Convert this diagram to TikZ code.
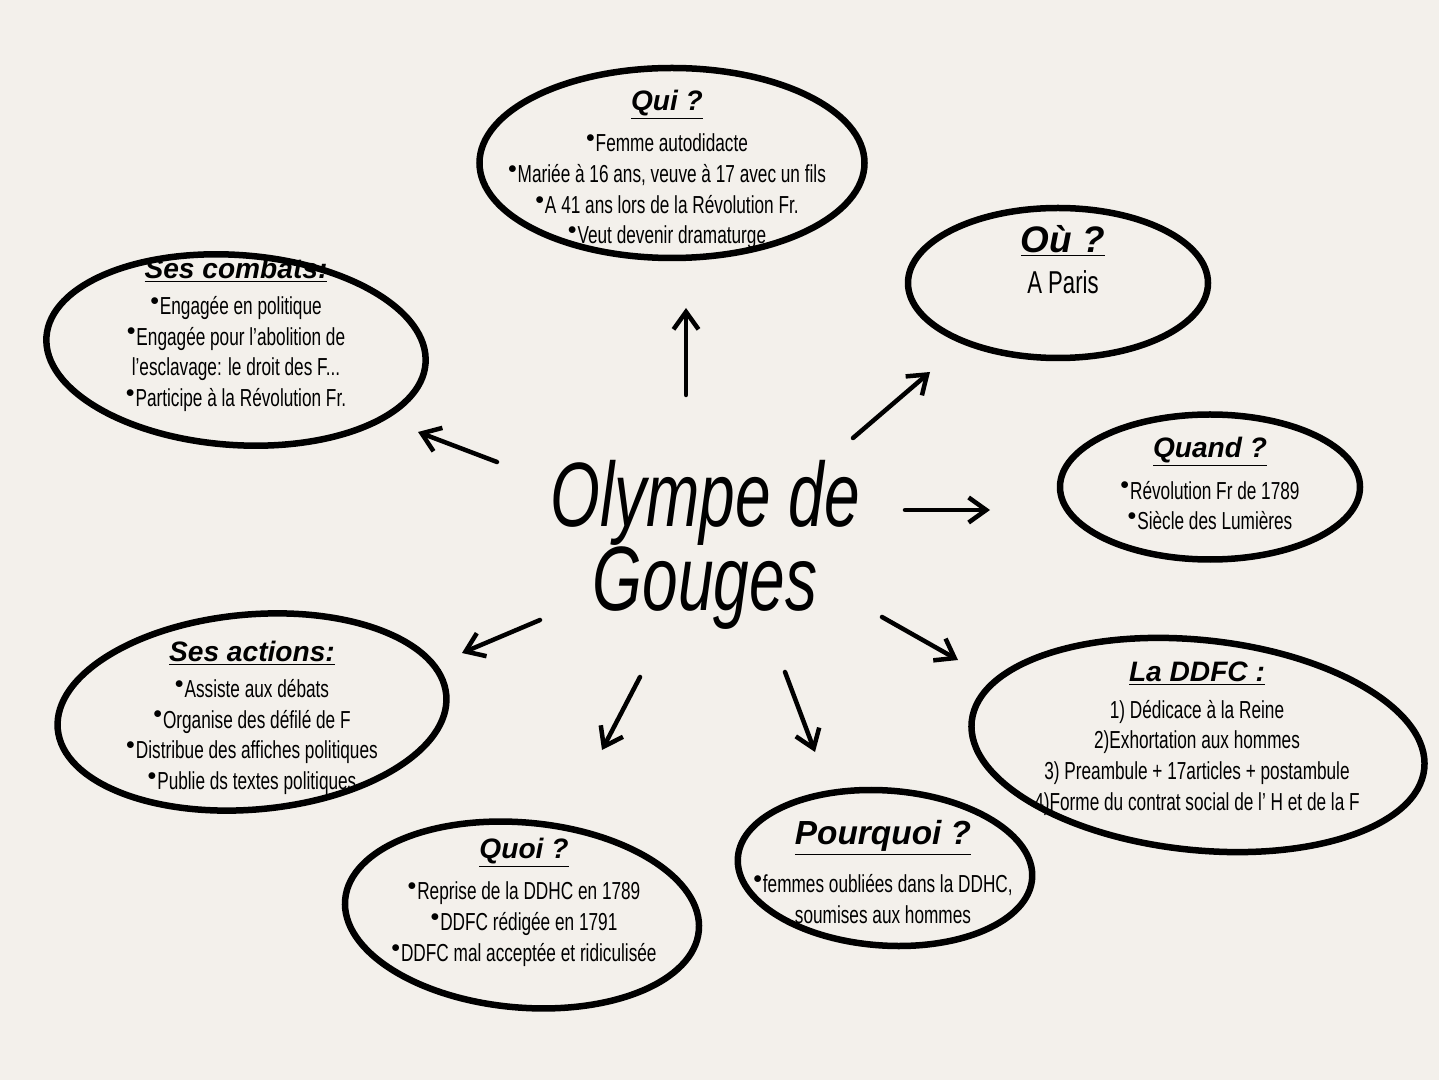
\documentclass[tikz,border=0pt]{standalone}
\usepackage{fontspec}
\setmainfont{Liberation Sans}[FakeStretch=0.7]
\newfontfamily\headfont{Liberation Sans}
\usetikzlibrary{shapes.geometric,positioning,arrows.meta}
\definecolor{paper}{HTML}{F3F0EB}
\tikzset{
  bubble/.style={ellipse, draw=black, line width=1.3mm, inner sep=0pt},
  txt/.style={align=center, inner sep=1pt, font=\fontsize{14}{17.5}\selectfont},
  ttl/.style={inner sep=1pt, font=\headfont\bfseries\itshape\fontsize{16}{19}\selectfont},
  link/.style={-{Straight Barb[length=3.5mm,width=5mm]}, line width=0.9mm, line cap=round}
}
\newcommand{\ttlul}[1]{\underline{#1}}
\begin{document}
\begin{tikzpicture}[x=0.2mm,y=-0.2mm]
\fill[paper] (0,0) rectangle (1439,1080);
\useasboundingbox (0,0) rectangle (1439,1080);

% bubbles
\node[bubble, minimum width=77mm, minimum height=38mm] (qui) at (672,163) {};
\node[bubble, minimum width=60mm, minimum height=30mm] (ou) at (1058,283) {};
\node[bubble, minimum width=76mm, minimum height=38mm, rotate=-4] (combats) at (236,350) {};
\node[bubble, minimum width=60mm, minimum height=29mm] (quand) at (1210,487) {};
\node[bubble, minimum width=78mm, minimum height=39mm, rotate=5] (actions) at (252,712) {};
\node[bubble, minimum width=91mm, minimum height=42mm, rotate=-6] (ddfc) at (1198,745) {};
\node[bubble, minimum width=71mm, minimum height=37mm, rotate=-5] (quoi) at (522,915) {};
\node[bubble, minimum width=59mm, minimum height=31mm, rotate=-4] (pourquoi) at (885,868) {};

% texts
\node[ttl] (quiT) at (667,105) {\ttlul{Qui ?}};
\node[txt, below=2mm of quiT] {$^\bullet$Femme autodidacte\\$^\bullet$Mariée à 16 ans, veuve à 17 avec un fils\\$^\bullet$A 41 ans lors de la Révolution Fr.\\$^\bullet$Veut devenir dramaturge};
\node[ttl, font=\headfont\bfseries\itshape\fontsize{21}{24}\selectfont] (ouT) at (1063,241) {\ttlul{Où ?}};
\node[txt, font=\fontsize{18}{22}\selectfont, below=2mm of ouT] {A Paris};
\node[ttl] (combatsT) at (236,270) {\ttlul{Ses combats:}};
\node[txt, below=2mm of combatsT] {$^\bullet$Engagée en politique\\$^\bullet$Engagée pour l'abolition de\\l'esclavage: le droit des F...\\$^\bullet$Participe à la Révolution Fr.};
\node[ttl] (quandT) at (1210,452) {\ttlul{Quand ?}};
\node[txt, below=2mm of quandT] {$^\bullet$Révolution Fr de 1789\\$^\bullet$Siècle des Lumières};
\node[ttl] (actionsT) at (252,653) {\ttlul{Ses actions:}};
\node[txt, below=2mm of actionsT] {$^\bullet$Assiste aux débats\\$^\bullet$Organise des défilé de F\\$^\bullet$Distribue des affiches politiques\\$^\bullet$Publie ds textes politiques};
\node[ttl] (ddfcT) at (1197,674) {\ttlul{La DDFC :}};
\node[txt, below=2mm of ddfcT] {1) Dédicace à la Reine\\2)Exhortation aux hommes\\3) Preambule + 17articles + postambule\\4)Forme du contrat social de l' H et de la F};
\node[ttl] (quoiT) at (524,853) {\ttlul{Quoi ?}};
\node[txt, below=2mm of quoiT] {$^\bullet$Reprise de la DDHC en 1789\\$^\bullet$DDFC rédigée en 1791\\$^\bullet$DDFC mal acceptée et ridiculisée};
\node[ttl, font=\headfont\bfseries\itshape\fontsize{19}{22}\selectfont] (pourquoiT) at (883,838) {\ttlul{Pourquoi ?}};
\node[txt, below=3mm of pourquoiT] {$^\bullet$femmes oubliées dans la DDHC,\\soumises aux hommes};

% centre
\node[align=center, font=\itshape\fontsize{52}{44}\selectfont] (olympe) at (705,545) {Olympe de\\Gouges};

% arrows
\coordinate (a1) at (686,395); \coordinate (b1) at (686,308);
\coordinate (a2) at (497,462); \coordinate (b2) at (418,432);
\coordinate (a3) at (853,438); \coordinate (b3) at (930,372);
\coordinate (a4) at (905,510); \coordinate (b4) at (990,510);
\coordinate (a5) at (540,620); \coordinate (b5) at (462,653);
\coordinate (a6) at (640,677); \coordinate (b6) at (602,750);
\coordinate (a7) at (785,672); \coordinate (b7) at (815,752);
\coordinate (a8) at (882,617); \coordinate (b8) at (958,660);
\foreach \i in {1,...,8}
  \draw[link] (a\i) -- (b\i);
\end{tikzpicture}
\end{document}
